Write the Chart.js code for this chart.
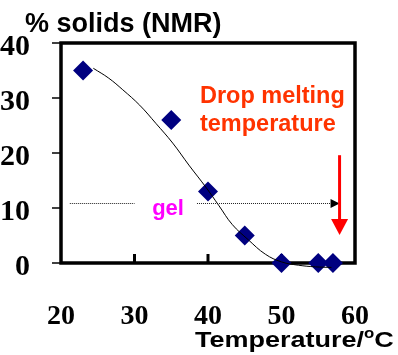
<!DOCTYPE html>
<html>
<head>
<meta charset="utf-8">
<script src="https://cdn.jsdelivr.net/npm/chart.js@4.4.1/dist/chart.umd.min.js"></script>
<style>
  html, body { margin: 0; padding: 0; background: #fff; }
  #wrap { width: 398px; height: 355px; }
</style>
</head>
<body>
<div id="wrap"><canvas id="chart" width="398" height="355"></canvas></div>
<script>
// Measured solid fat content (NMR) against temperature
const temperatures = [23, 35, 40, 45, 50, 55, 57];
const solids = [35, 26, 13, 5, 0, 0, 0];

// Points along the fitted trend line
const fitTemperatures = [24.4, 26.5, 28.4, 30.7, 32.9, 35.2, 37.4, 39.7, 41.5, 43.3, 45.5, 47.8, 50, 52.3, 54.6, 56.8];
const fitSolids = [35.4, 33.6, 31.5, 28.7, 25.4, 21.8, 17.8, 13.8, 10.4, 7.0, 4.2, 1.6, 0.2, -0.4, -0.7, -0.8];

// Axis ticks
const xTicks = [20, 30, 40, 50, 60];
const yTicks = [0, 10, 20, 30, 40];

// Gel region line (solids level, start, gap, end temperature)
const gelLevel = 10.85;
const gelStart = 21.2;
const gelGap = [30, 38.5];
const gelEnd = 57.9;

// Drop melting temperature marker (temperature, top and tip solids levels)
const dropTemp = 57.9;
const dropArrowTop = 19.6;
const dropArrowTip = 5.1;

const SANS = '"Liberation Sans", Arial, sans-serif';
const SERIF = '"Liberation Serif", "Times New Roman", serif';

const annotations = {
  id: 'annotations',
  beforeDatasetsDraw(chart) {
    const { ctx, chartArea: a, scales: { x, y } } = chart;
    ctx.save();
    ctx.strokeStyle = '#000';

    // y ticks, pointing outwards
    ctx.lineWidth = 1.5;
    yTicks.forEach(v => {
      const py = y.getPixelForValue(v);
      ctx.beginPath();
      ctx.moveTo(a.left - 9, py);
      ctx.lineTo(a.left, py);
      ctx.stroke();
    });

    // x ticks, pointing inwards
    ctx.lineWidth = 3;
    xTicks.slice(1, -1).forEach(v => {
      const px = x.getPixelForValue(v);
      ctx.beginPath();
      ctx.moveTo(px, a.bottom);
      ctx.lineTo(px, a.bottom - 9);
      ctx.stroke();
    });

    // plot frame
    ctx.lineWidth = 3.5;
    ctx.strokeRect(a.left, a.top, a.right - a.left, a.bottom - a.top);

    // dotted gel line with arrowhead
    const gy = Math.round(y.getPixelForValue(gelLevel)) + 0.5;
    const tipX = x.getPixelForValue(gelEnd);
    ctx.lineWidth = 1;
    ctx.strokeStyle = '#222';
    ctx.setLineDash([1, 1]);
    ctx.beginPath();
    ctx.moveTo(x.getPixelForValue(gelStart), gy);
    ctx.lineTo(x.getPixelForValue(gelGap[0]), gy);
    ctx.moveTo(x.getPixelForValue(gelGap[1]), gy);
    ctx.lineTo(tipX - 8, gy);
    ctx.stroke();
    ctx.setLineDash([]);
    ctx.fillStyle = '#000';
    ctx.beginPath();
    ctx.moveTo(tipX, gy);
    ctx.lineTo(tipX - 9, gy - 4.5);
    ctx.lineTo(tipX - 9, gy + 4.5);
    ctx.closePath();
    ctx.fill();

    ctx.restore();
  },
  afterDatasetsDraw(chart) {
    const { ctx, scales: { x, y } } = chart;
    ctx.save();

    // red drop-melting arrow
    const ax = x.getPixelForValue(dropTemp);
    const tipY = y.getPixelForValue(dropArrowTip);
    ctx.strokeStyle = '#FF0000';
    ctx.fillStyle = '#FF0000';
    ctx.lineWidth = 3;
    ctx.beginPath();
    ctx.moveTo(ax, y.getPixelForValue(dropArrowTop));
    ctx.lineTo(ax, tipY - 14);
    ctx.stroke();
    ctx.beginPath();
    ctx.moveTo(ax, tipY);
    ctx.lineTo(ax - 8.5, tipY - 16);
    ctx.lineTo(ax + 8.5, tipY - 16);
    ctx.closePath();
    ctx.fill();

    // labels inside the plot
    ctx.textAlign = 'left';
    ctx.textBaseline = 'alphabetic';
    ctx.fillStyle = '#FF3300';
    ctx.font = 'bold 23.5px ' + SANS;
    ctx.fillText('Drop melting', x.getPixelForValue(38.9), y.getPixelForValue(29.05));
    ctx.fillText('temperature', x.getPixelForValue(38.9), y.getPixelForValue(24.0));

    ctx.fillStyle = '#FF00FF';
    ctx.font = 'bold 22px ' + SANS;
    ctx.fillText('gel', x.getPixelForValue(32.4), y.getPixelForValue(8.64));

    // y axis title
    ctx.fillStyle = '#000';
    ctx.font = 'bold 27px ' + SANS;
    ctx.fillText('% solids (NMR)', 25, 32);

    // x axis title with superscript degree "o"
    ctx.save();
    ctx.translate(195, 347);
    ctx.scale(1.2, 1);
    ctx.font = 'bold 22.5px ' + SANS;
    const main = 'Temperature/';
    const wMain = ctx.measureText(main).width;
    ctx.fillText(main, 0, 0);
    ctx.font = 'bold 14px ' + SANS;
    const wO = ctx.measureText('o').width;
    ctx.fillText('o', wMain, -9);
    ctx.font = 'bold 22.5px ' + SANS;
    ctx.fillText('C', wMain + wO, 0);
    ctx.restore();

    ctx.restore();
  }
};

new Chart(document.getElementById('chart'), {
  type: 'scatter',
  data: {
    datasets: [
      {
        label: 'fit',
        data: fitTemperatures.map((t, i) => ({ x: t, y: fitSolids[i] })),
        showLine: true,
        borderColor: '#000',
        borderWidth: 1,
        pointRadius: 0,
        tension: 0.4,
        clip: false
      },
      {
        label: '% solids',
        data: temperatures.map((t, i) => ({ x: t, y: solids[i] })),
        showLine: false,
        pointStyle: 'rectRot',
        pointRadius: 10,
        pointBackgroundColor: '#000080',
        pointBorderColor: '#000080',
        pointBorderWidth: 0,
        clip: false
      }
    ]
  },
  options: {
    responsive: false,
    animation: false,
    devicePixelRatio: 1,
    events: [],
    layout: { padding: { left: 0, right: 41, top: 43, bottom: 0 } },
    plugins: {
      legend: { display: false },
      tooltip: { enabled: false },
      title: { display: false }
    },
    scales: {
      x: {
        type: 'linear',
        min: 20,
        max: 60,
        afterBuildTicks: s => { s.ticks = xTicks.map(v => ({ value: v })); },
        afterFit: s => { s.height = 92; },
        grid: { display: false },
        border: { display: false },
        ticks: {
          color: '#000',
          padding: 29,
          font: { family: SERIF, weight: 'bold', size: 28 }
        }
      },
      y: {
        type: 'linear',
        min: 0,
        max: 40,
        afterBuildTicks: s => { s.ticks = yTicks.map(v => ({ value: v })); },
        afterFit: s => { s.width = 61; },
        grid: { display: false },
        border: { display: false },
        ticks: {
          color: '#000',
          padding: 23,
          labelOffset: 4,
          font: { family: SERIF, weight: 'bold', size: 30 }
        }
      }
    }
  },
  plugins: [annotations]
});
</script>
</body>
</html>
